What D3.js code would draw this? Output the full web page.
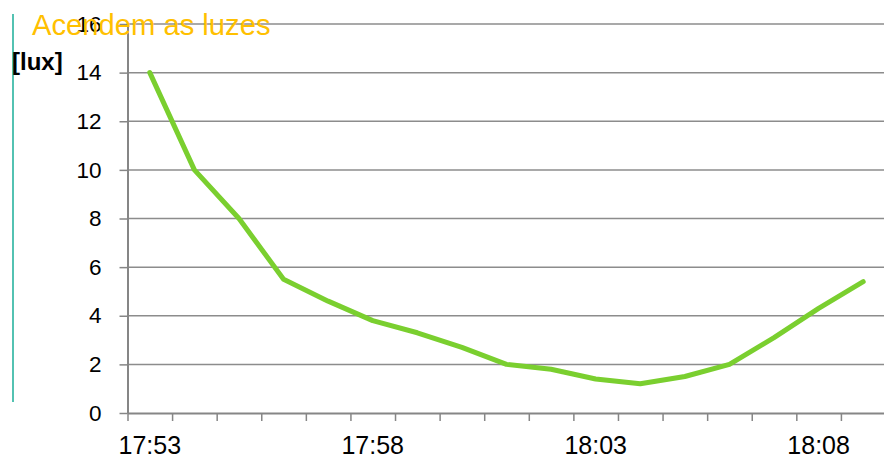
<!DOCTYPE html>
<html>
<head>
<meta charset="utf-8">
<script src="https://cdn.jsdelivr.net/npm/d3@7"></script>
<style>
  body { margin: 0; background: #fff; }
  svg { font-family: "Liberation Sans", Arial, sans-serif; }
</style>
</head>
<body>
<svg id="chart" width="884" height="456"></svg>
<script>
// minutes on the category axis
const times = ["17:53", "17:54", "17:55", "17:56", "17:57", "17:58", "17:59", "18:00", "18:01",
  "18:02", "18:03", "18:04", "18:05", "18:06", "18:07", "18:08", "18:09"];
// illuminance readings [lux]
const lux = [14, 10, 8, 5.5, 4.6, 3.8, 3.3, 2.7, 2.0, 1.8, 1.4, 1.2, 1.5, 2.0, 3.1, 4.3, 5.4];
const yTicks = [0, 2, 4, 6, 8, 10, 12, 14, 16];
const shownLabels = ["17:53", "17:58", "18:03", "18:08"];

const svg = d3.select("#chart");
const plotLeft = 127.5, plotRight = 885.5, plotTop = 24, plotBottom = 413;

let x = d3.scaleBand().domain(times).range([plotLeft, plotRight]).paddingInner(0).paddingOuter(0);
let xEdge = d3.scaleLinear().domain([0, times.length]).range([plotLeft, plotRight]);
let y = d3.scaleLinear().domain([0, 16]).range([plotBottom, plotTop]);

// teal bar on the left
svg.append("line")
  .attr("x1", 13).attr("x2", 13).attr("y1", 14).attr("y2", 402)
  .attr("stroke", "#1aae98").attr("stroke-width", 1.5);

// gridlines
svg.append("g")
  .selectAll("line")
  .data(yTicks.filter(d => d > 0))
  .enter()
  .append("line")
  .attr("x1", plotLeft).attr("x2", 884)
  .attr("y1", d => y(d)).attr("y2", d => y(d))
  .attr("stroke", "#8c8c8c").attr("stroke-width", 1.5);

// y axis
svg.append("g")
  .attr("transform", `translate(${plotLeft},0)`)
  .call(d3.axisLeft(y).tickValues(yTicks).tickSize(8).tickSizeOuter(0).tickPadding(18))
  .call(g => g.select(".domain").attr("stroke", "#868686").attr("stroke-width", 2))
  .call(g => g.selectAll(".tick line").attr("stroke", "#868686").attr("stroke-width", 1.5))
  .call(g => g.selectAll(".tick text").attr("font-size", "22.5px").attr("fill", "#000")
    .attr("font-family", "Liberation Sans, Arial, sans-serif"));

// x axis: ticks between categories
svg.append("g")
  .attr("transform", `translate(0,${plotBottom})`)
  .call(d3.axisBottom(xEdge).tickValues(d3.range(0, times.length + 1)).tickFormat("").tickSize(8).tickSizeOuter(0))
  .call(g => g.select(".domain").attr("stroke", "#868686").attr("stroke-width", 2))
  .call(g => g.selectAll(".tick line").attr("stroke", "#868686").attr("stroke-width", 1.5));

// x labels every 5 minutes
svg.append("g")
  .attr("transform", `translate(0,${plotBottom})`)
  .call(d3.axisBottom(x).tickValues(shownLabels).tickSize(0).tickPadding(23))
  .call(g => g.select(".domain").remove())
  .call(g => g.selectAll(".tick text").attr("font-size", "25px").attr("fill", "#000")
    .attr("font-family", "Liberation Sans, Arial, sans-serif"));

// the line
let line = d3.line()
  .x((d, i) => x(times[i]) + x.bandwidth() / 2)
  .y(d => y(d));

svg.append("path")
  .datum(lux)
  .attr("d", line)
  .attr("fill", "none")
  .attr("stroke", "#7acf2f")
  .attr("stroke-width", 5)
  .attr("stroke-linejoin", "round")
  .attr("stroke-linecap", "round");

// unit label
svg.append("text")
  .attr("x", 12).attr("y", 70)
  .attr("font-size", "24px").attr("font-weight", "bold")
  .text("[lux]");

// title
svg.append("text")
  .attr("x", 32).attr("y", 35)
  .attr("font-size", "29.2px").attr("fill", "#ffc000")
  .text("Acendem as luzes");
</script>
</body>
</html>
